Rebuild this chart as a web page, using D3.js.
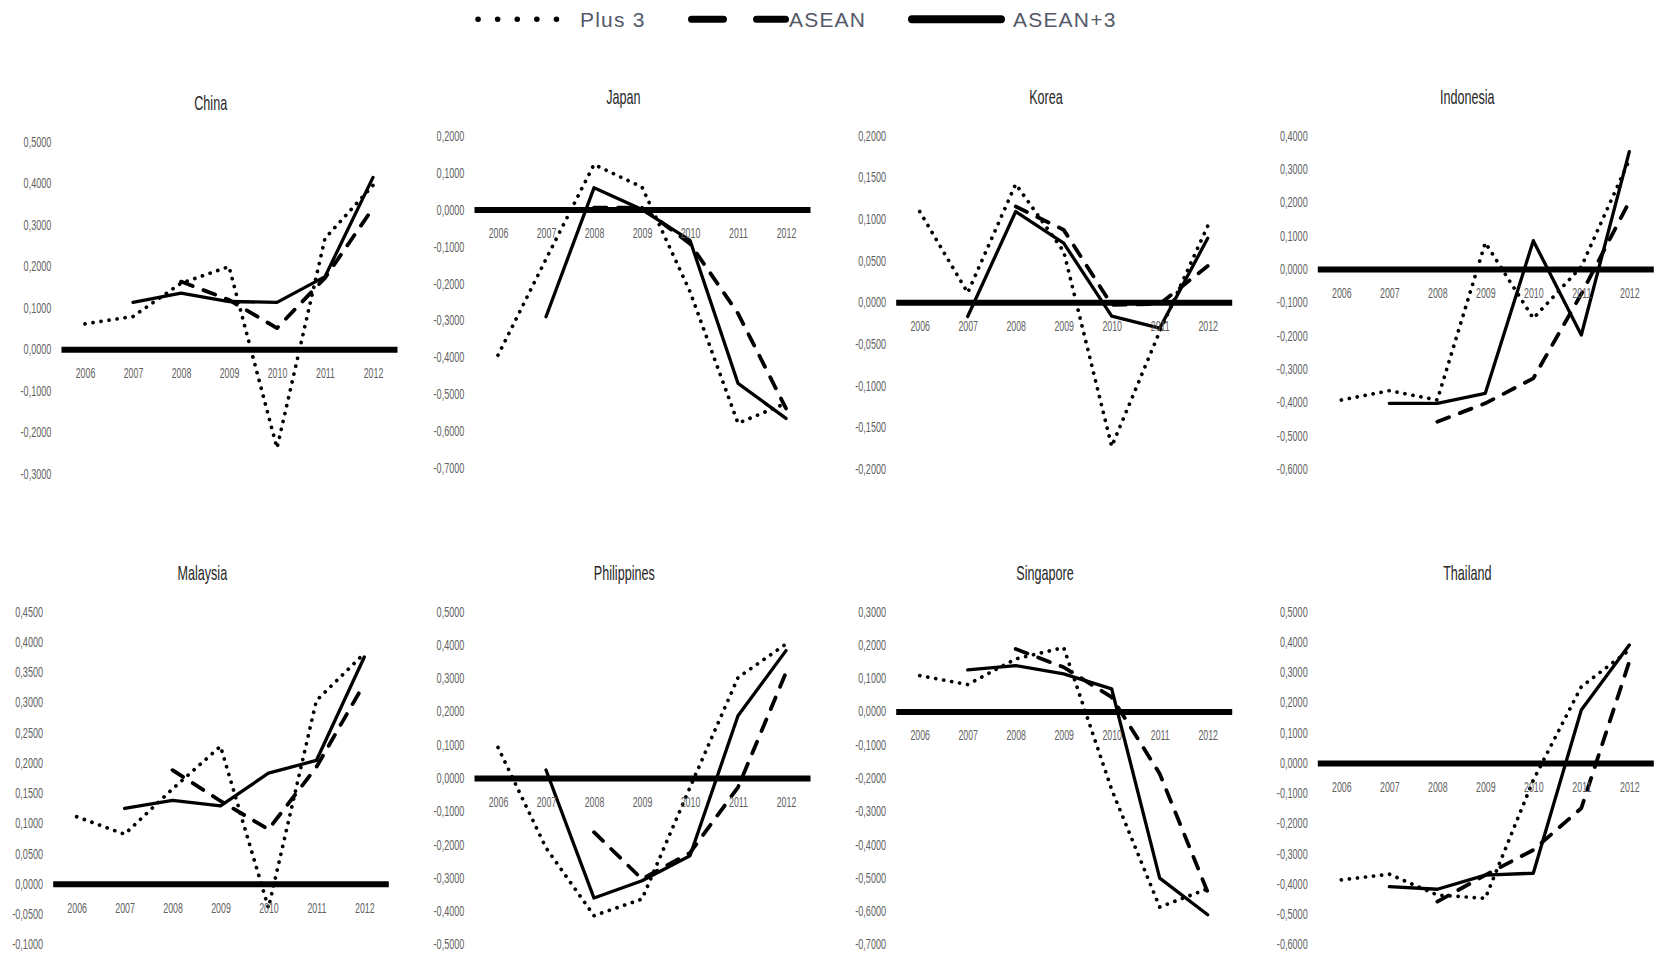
<!DOCTYPE html>
<html>
<head>
<meta charset="utf-8">
<script src="https://cdn.jsdelivr.net/npm/d3@7"></script>
<style>
  html, body { margin: 0; padding: 0; background: #ffffff; }
  svg { display: block; }
  text { font-family: "Liberation Sans", Arial, sans-serif; }
</style>
</head>
<body>
<svg id="chart" width="1657" height="954"></svg>
<script>
// ---------------- DATA ----------------
const years = ["2006", "2007", "2008", "2009", "2010", "2011", "2012"];
const seriesNames = ["Plus 3", "ASEAN", "ASEAN+3"];
const countries = ["China", "Japan", "Korea", "Indonesia", "Malaysia", "Philippines", "Singapore", "Thailand"];

const chinaPlus3  = [0.061, 0.079, 0.159, 0.199, -0.238, 0.267, 0.395];
const chinaAsean  = [null, null, 0.163, 0.119, 0.051, 0.172, 0.340];
const chinaAsean3 = [null, 0.113, 0.135, 0.115, 0.113, 0.175, 0.414];

const japanPlus3  = [-0.394, -0.134, 0.122, 0.061, -0.222, -0.578, -0.524];
const japanAsean  = [null, null, 0.005, 0.005, -0.092, -0.281, -0.538];
const japanAsean3 = [null, -0.290, 0.059, 0.000, -0.083, -0.470, -0.565];

const koreaPlus3  = [0.109, 0.0115, 0.142, 0.061, -0.173, -0.035, 0.0916];
const koreaAsean  = [null, null, 0.115, 0.087, -0.003, -0.002, 0.0436];
const koreaAsean3 = [null, -0.017, 0.109, 0.071, -0.0165, -0.031, 0.077];

const indonesiaPlus3  = [-0.393, -0.365, -0.393, 0.079, -0.148, 0.007, 0.327];
const indonesiaAsean  = [null, null, -0.458, -0.403, -0.328, -0.075, 0.202];
const indonesiaAsean3 = [null, -0.403, -0.403, -0.373, 0.085, -0.198, 0.352];

const malaysiaPlus3  = [0.111, 0.082, 0.157, 0.2275, -0.040, 0.303, 0.381];
const malaysiaAsean  = [null, null, 0.188, 0.137, 0.090, 0.193, 0.331];
const malaysiaAsean3 = [null, 0.1246, 0.138, 0.129, 0.183, 0.204, 0.375];

const philippinesPlus3  = [0.092, -0.210, -0.414, -0.364, -0.028, 0.302, 0.403];
const philippinesAsean  = [null, null, -0.163, -0.304, -0.225, -0.028, 0.317];
const philippinesAsean3 = [null, 0.024, -0.361, -0.309, -0.234, 0.187, 0.383];

const singaporePlus3  = [0.108, 0.081, 0.158, 0.192, -0.235, -0.588, -0.533];
const singaporeAsean  = [null, null, 0.188, 0.133, 0.043, -0.187, -0.543];
const singaporeAsean3 = [null, 0.125, 0.138, 0.113, 0.068, -0.501, -0.611];

const thailandPlus3  = [-0.387, -0.368, -0.437, -0.448, -0.057, 0.252, 0.373];
const thailandAsean  = [null, null, -0.459, -0.371, -0.288, -0.150, 0.335];
const thailandAsean3 = [null, -0.409, -0.418, -0.371, -0.365, 0.175, 0.390];

// y-axis tick values (top to bottom)
const chinaTicks       = [0.5, 0.4, 0.3, 0.2, 0.1, 0, -0.1, -0.2, -0.3];
const japanTicks       = [0.2, 0.1, 0, -0.1, -0.2, -0.3, -0.4, -0.5, -0.6, -0.7];
const koreaTicks       = [0.2, 0.15, 0.1, 0.05, 0, -0.05, -0.1, -0.15, -0.2];
const indonesiaTicks   = [0.4, 0.3, 0.2, 0.1, 0, -0.1, -0.2, -0.3, -0.4, -0.5, -0.6];
const malaysiaTicks    = [0.45, 0.4, 0.35, 0.3, 0.25, 0.2, 0.15, 0.1, 0.05, 0, -0.05, -0.1];
const philippinesTicks = [0.5, 0.4, 0.3, 0.2, 0.1, 0, -0.1, -0.2, -0.3, -0.4, -0.5];
const singaporeTicks   = [0.3, 0.2, 0.1, 0, -0.1, -0.2, -0.3, -0.4, -0.5, -0.6, -0.7];
const thailandTicks    = [0.5, 0.4, 0.3, 0.2, 0.1, 0, -0.1, -0.2, -0.3, -0.4, -0.5, -0.6];

// ---------------- TABLE BUILT FROM ARRAYS ----------------
const table = [
  { name: countries[0], series: [chinaPlus3, chinaAsean, chinaAsean3], ticks: chinaTicks },
  { name: countries[1], series: [japanPlus3, japanAsean, japanAsean3], ticks: japanTicks },
  { name: countries[2], series: [koreaPlus3, koreaAsean, koreaAsean3], ticks: koreaTicks },
  { name: countries[3], series: [indonesiaPlus3, indonesiaAsean, indonesiaAsean3], ticks: indonesiaTicks },
  { name: countries[4], series: [malaysiaPlus3, malaysiaAsean, malaysiaAsean3], ticks: malaysiaTicks },
  { name: countries[5], series: [philippinesPlus3, philippinesAsean, philippinesAsean3], ticks: philippinesTicks },
  { name: countries[6], series: [singaporePlus3, singaporeAsean, singaporeAsean3], ticks: singaporeTicks },
  { name: countries[7], series: [thailandPlus3, thailandAsean, thailandAsean3], ticks: thailandTicks }
];

// ---------------- LAYOUT (pixels) ----------------
const layout = [
  { left: 61,     right: 397,    top: 141.7, bottom: 473.8, titleX: 210.7,  titleY: 102.3 },
  { left: 474,    right: 810,    top: 135.7, bottom: 468.3, titleX: 623.3,  titleY: 96.7 },
  { left: 895.7,  right: 1231.7, top: 135.7, bottom: 469,   titleX: 1046,   titleY: 96.7 },
  { left: 1317.3, right: 1653.3, top: 135.7, bottom: 469,   titleX: 1467.3, titleY: 96.7 },
  { left: 52.7,   right: 388.3,  top: 611.7, bottom: 944.3, titleX: 202.3,  titleY: 572.3 },
  { left: 474,    right: 810,    top: 611.7, bottom: 944.3, titleX: 624.3,  titleY: 572.3 },
  { left: 895.7,  right: 1231.7, top: 611.7, bottom: 944.3, titleX: 1045,   titleY: 572.3 },
  { left: 1317.3, right: 1653.3, top: 611.7, bottom: 944.3, titleX: 1467.3, titleY: 572.3 }
];

const seriesStyles = [
  { width: 3.7, dash: "0.1 8", cap: "round" },
  { width: 3.8, dash: "12.5 11.5", cap: "round" },
  { width: 3.3, dash: null, cap: "round" }
];

const squeeze = 0.63;
const locale = d3.formatLocale({ decimal: ",", thousands: ".", grouping: [3], currency: ["", ""], minus: "-" });
const fmt = locale.format(".4f");

const svg = d3.select("#chart");

table.forEach((panel, i) => {
  const L = layout[i];
  const g = svg.append("g");
  const yMax = d3.max(panel.ticks), yMin = d3.min(panel.ticks);

  const x = d3.scalePoint().domain(years).range([L.left, L.right]).padding(0.5);
  const y = d3.scaleLinear().domain([yMin, yMax]).range([L.bottom, L.top]);

  // title
  g.append("text")
    .attr("transform", `translate(${L.titleX},${L.titleY}) scale(${squeeze},1)`)
    .attr("text-anchor", "middle")
    .attr("dy", "0.36em")
    .attr("font-size", 20)
    .attr("fill", "#262626")
    .text(panel.name);

  // y axis (labels only)
  const yAxis = d3.axisLeft(y).tickValues(panel.ticks).tickSize(0).tickPadding(0).tickFormat(fmt);
  const ya = g.append("g").attr("transform", `translate(${L.left},0)`).call(yAxis);
  ya.select(".domain").remove();
  ya.selectAll("text")
    .attr("x", 0)
    .attr("transform", `translate(-9.6,0) scale(${squeeze + 0.02},1)`)
    .attr("font-size", 14)
    .attr("font-family", "Liberation Sans, Arial, sans-serif")
    .attr("fill", "#5f5f5f");

  // series lines
  panel.series.forEach((vals, s) => {
    const st = seriesStyles[s];
    const line = d3.line()
      .defined(d => d.v !== null)
      .x(d => x(d.year))
      .y(d => y(d.v));
    const pts = years.map((yr, k) => ({ year: yr, v: vals[k] }));
    g.append("path")
      .datum(pts)
      .attr("d", line)
      .attr("fill", "none")
      .attr("stroke", "#000")
      .attr("stroke-width", st.width)
      .attr("stroke-linecap", st.cap)
      .attr("stroke-linejoin", "round")
      .attr("stroke-dasharray", st.dash);
  });

  // x axis at zero
  const xAxis = d3.axisBottom(x).tickSize(0).tickSizeOuter(0).tickPadding(18.8);
  const xa = g.append("g").attr("transform", `translate(0,${y(0)})`).call(xAxis);
  xa.select(".domain").attr("stroke", "#000").attr("stroke-width", 6);
  xa.selectAll("text")
    .attr("transform", `scale(${squeeze},1)`)
    .attr("font-size", 14)
    .attr("font-family", "Liberation Sans, Arial, sans-serif")
    .attr("fill", "#5f5f5f");
});

// ---------------- LEGEND ----------------
const legendItems = [
  { x1: 478, x2: 557, w: 5.5, dash: "0.1 19.5", textX: 580 },
  { x1: 691.5, x2: 785.5, w: 7, dash: "32 33", textX: 789 },
  { x1: 912, x2: 1001, w: 8, dash: null, textX: 1013 }
];
const lg = svg.append("g");
seriesNames.forEach((nm, i) => {
  const it = legendItems[i];
  lg.append("line")
    .attr("x1", it.x1).attr("x2", it.x2)
    .attr("y1", 19.3).attr("y2", 19.3)
    .attr("stroke", "#000")
    .attr("stroke-width", it.w)
    .attr("stroke-linecap", "round")
    .attr("stroke-dasharray", it.dash);
  lg.append("text")
    .attr("x", it.textX)
    .attr("y", 26.7)
    .attr("font-size", 21)
    .attr("letter-spacing", 1.2)
    .attr("fill", "#555a68")
    .text(nm);
});
</script>
</body>
</html>
